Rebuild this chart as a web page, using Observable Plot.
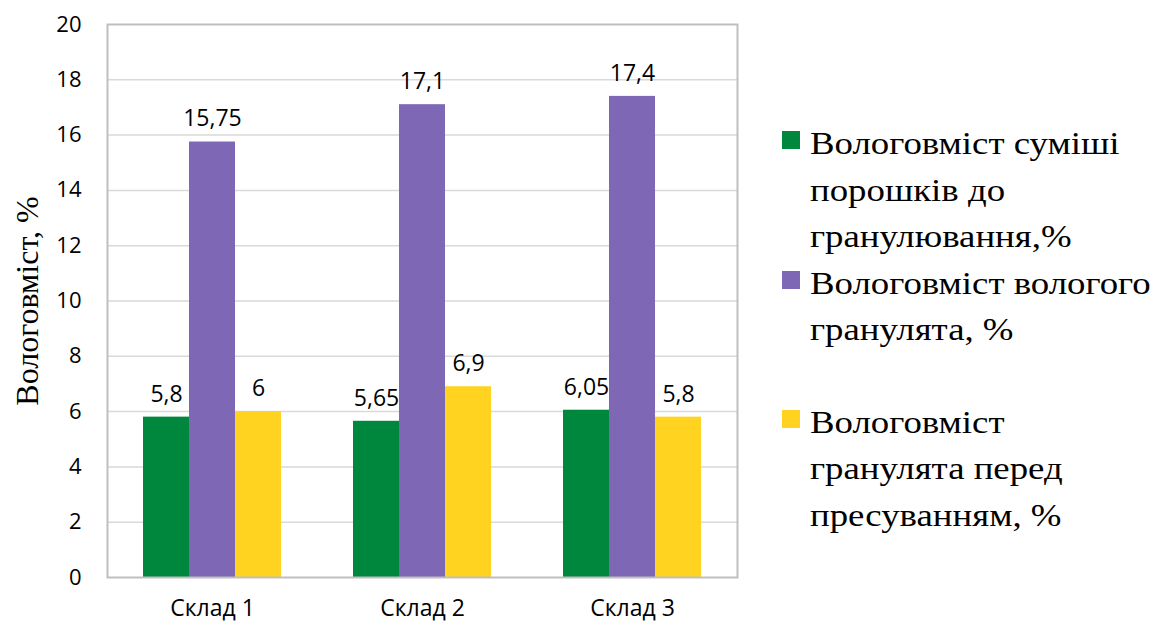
<!DOCTYPE html>
<html>
<head>
<meta charset="utf-8">
<script src="https://cdn.jsdelivr.net/npm/d3@7"></script>
<script src="https://cdn.jsdelivr.net/npm/@observablehq/plot@0.6"></script>
<style>
  body { margin: 0; background: #fff; }
  #chart { position: relative; width: 1159px; height: 623px; }
  #chart svg { position: absolute; left: 0; top: 0; }
  .legend { position: absolute; left: 782px; top: 120px; font-family: "Liberation Serif", "Times New Roman", serif; font-size: 32px; line-height: 46.5px; color: #000; }
  .legend .item { position: relative; padding-left: 28px; white-space: nowrap; }
  .legend .item.spaced { margin-top: 46px; }
  .legend .line { transform: scaleX(1.15); transform-origin: left center; }
  .legend .sw { position: absolute; left: 0; top: 11px; width: 18px; height: 18px; }
</style>
</head>
<body>
<div id="chart"></div>
<script>
// Categories (compositions) and the three moisture series
const categories = ["Склад 1", "Склад 2", "Склад 3"];
const seriesNames = [
  "Вологовміст суміші порошків до гранулювання,%",
  "Вологовміст вологого гранулята, %",
  "Вологовміст гранулята перед пресуванням, %"
];
const legendLines = [
  ["Вологовміст суміші", "порошків до", "гранулювання,%"],
  ["Вологовміст вологого", "гранулята, %"],
  ["Вологовміст", "гранулята перед", "пресуванням, %"]
];
const powderMix = [5.8, 5.65, 6.05];
const wetGranulate = [15.75, 17.1, 17.4];
const beforePressing = [6, 6.9, 5.8];
const seriesColors = ["#00873e", "#7e67b5", "#ffd320"];
const yTicks = [0, 2, 4, 6, 8, 10, 12, 14, 16, 18, 20];
const yTitle = "Вологовміст, %";

const seriesValues = [powderMix, wetGranulate, beforePressing];
const data = [];
categories.forEach((cat, i) => {
  seriesNames.forEach((s, j) => data.push({cat, series: s, value: seriesValues[j][i]}));
});

// decimal comma, as in the labels
const fmt = v => String(v).replace(".", ",");
const tickFont = "Open Sans, Lato, sans-serif";

const chart = Plot.plot({
  width: 1159,
  height: 623,
  marginTop: 24,
  marginBottom: 46,
  marginLeft: 106,
  marginRight: 421,
  style: {fontFamily: tickFont, color: "#000", background: "transparent"},
  fx: {domain: categories, padding: 0, label: null, axis: null},
  x: {domain: seriesNames, paddingInner: 0, paddingOuter: 0.74, axis: null},
  y: {domain: [0, 20], ticks: yTicks, axis: null},
  color: {domain: seriesNames, range: seriesColors},
  marks: [
    Plot.ruleY(yTicks.filter(t => t > 0 && t < 20), {stroke: "#d9d9d9", strokeWidth: 1.5}),
    Plot.barY(data, {fx: "cat", x: "series", y: "value", fill: "series"}),
    Plot.text(data, {
      fx: "cat", x: "series", y: "value", text: d => fmt(d.value),
      dy: -23, lineAnchor: "middle", fontSize: 23, fontFamily: tickFont, fill: "#000"
    }),
    Plot.frame({facet: "super", stroke: "#bfbfbf", strokeWidth: 2}),
    Plot.axisY(yTicks, {anchor: "left", tickSize: 0, tickPadding: 26, fontSize: 22, fontFamily: tickFont, label: null}),
    Plot.axisY([], {anchor: "left", label: yTitle, labelAnchor: "center", labelOffset: 92, labelArrow: "none", fontSize: 32, fontFamily: "Liberation Serif, serif"}),
    Plot.axisFx({anchor: "bottom", tickSize: 0, tickPadding: 22, fontSize: 23, fontFamily: tickFont, label: null})
  ]
});

const root = document.getElementById("chart");
root.appendChild(chart);

// Legend to the right of the plot area
const legend = document.createElement("div");
legend.className = "legend";
seriesNames.forEach((s, i) => {
  const item = document.createElement("div");
  item.className = "item" + (i === 2 ? " spaced" : "");
  const sw = document.createElement("span");
  sw.className = "sw";
  sw.style.background = seriesColors[i];
  item.appendChild(sw);
  legendLines[i].forEach(line => {
    const l = document.createElement("div");
    l.className = "line";
    l.textContent = line;
    item.appendChild(l);
  });
  legend.appendChild(item);
});
root.appendChild(legend);
</script>
</body>
</html>
